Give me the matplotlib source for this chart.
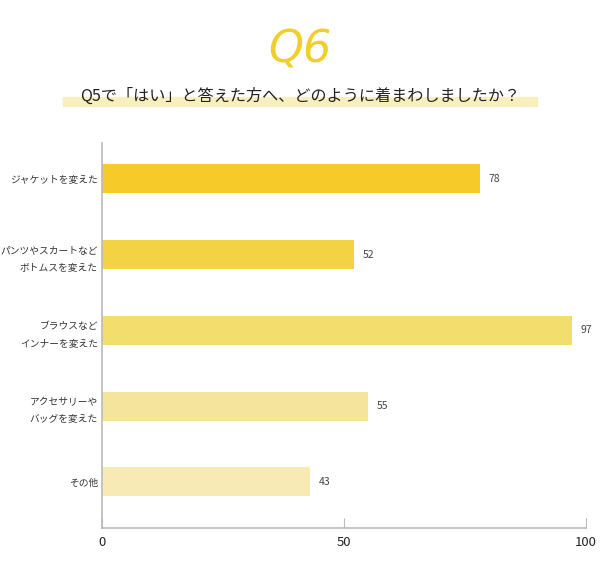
import matplotlib.pyplot as plt
import matplotlib.patches as mpatches

plt.rcParams['font.family'] = ['Noto Sans CJK JP', 'DejaVu Sans']

categories = ['ジャケットを変えた', 'パンツやスカートなど\nボトムスを変えた', 'ブラウスなど\nインナーを変えた',
              'アクセサリーや\nバッグを変えた', 'その他']
values = [78, 52, 97, 55, 43]
colors = ['#F5CB2A', '#F3D244', '#F2DE6C', '#F4E49C', '#F7EAB4']
xticks = [0, 50, 100]

fig = plt.figure(figsize=(6, 5.63), dpi=100)
ax = fig.add_axes([0.17, 1 - 528 / 563, 0.807, 385 / 563])

pos = list(range(len(categories)))
ax.barh(pos, values, height=0.383, color=colors)
for p, v in zip(pos, values):
    ax.text(v + 1.8, p, str(v), va='center', ha='left', fontsize=7.5, color='#444444')

ax.set_ylim(4.61, -0.475)
ax.set_xlim(0, 100)
ax.set_yticks(pos)
ax.set_yticklabels(categories, fontsize=7, color='#333333', linespacing=1.9)
ax.set_xticks(xticks)
ax.set_xticklabels([str(t) for t in xticks], fontsize=9.5, color='#222222')
ax.tick_params(axis='y', length=0, pad=3)
ax.tick_params(axis='x', direction='in', length=7, color='#BBBBBB', pad=6)
for s in ['top', 'right']:
    ax.spines[s].set_visible(False)
for s in ['left', 'bottom']:
    ax.spines[s].set_color('#BBBBBB')
    ax.spines[s].set_linewidth(1.2)

# title
fig.text(0.5, 1 - 50 / 563, 'Q6', ha='center', va='center', fontsize=32, color='#F1CE2A',
         family='DejaVu Sans', style='italic')
# highlight band under subtitle
fig.patches.append(mpatches.Rectangle((63 / 600, 1 - 106 / 563), 474 / 600, 9 / 563,
                                      transform=fig.transFigure, color='#F8EFBE', zorder=0))
fig.text(0.5, 1 - 96 / 563, 'Q5で「はい」と答えた方へ、どのように着まわしましたか？', ha='center', va='center',
         fontsize=11.6, color='#222222', zorder=2)

fig.savefig('out.png', dpi=100, facecolor='white')
